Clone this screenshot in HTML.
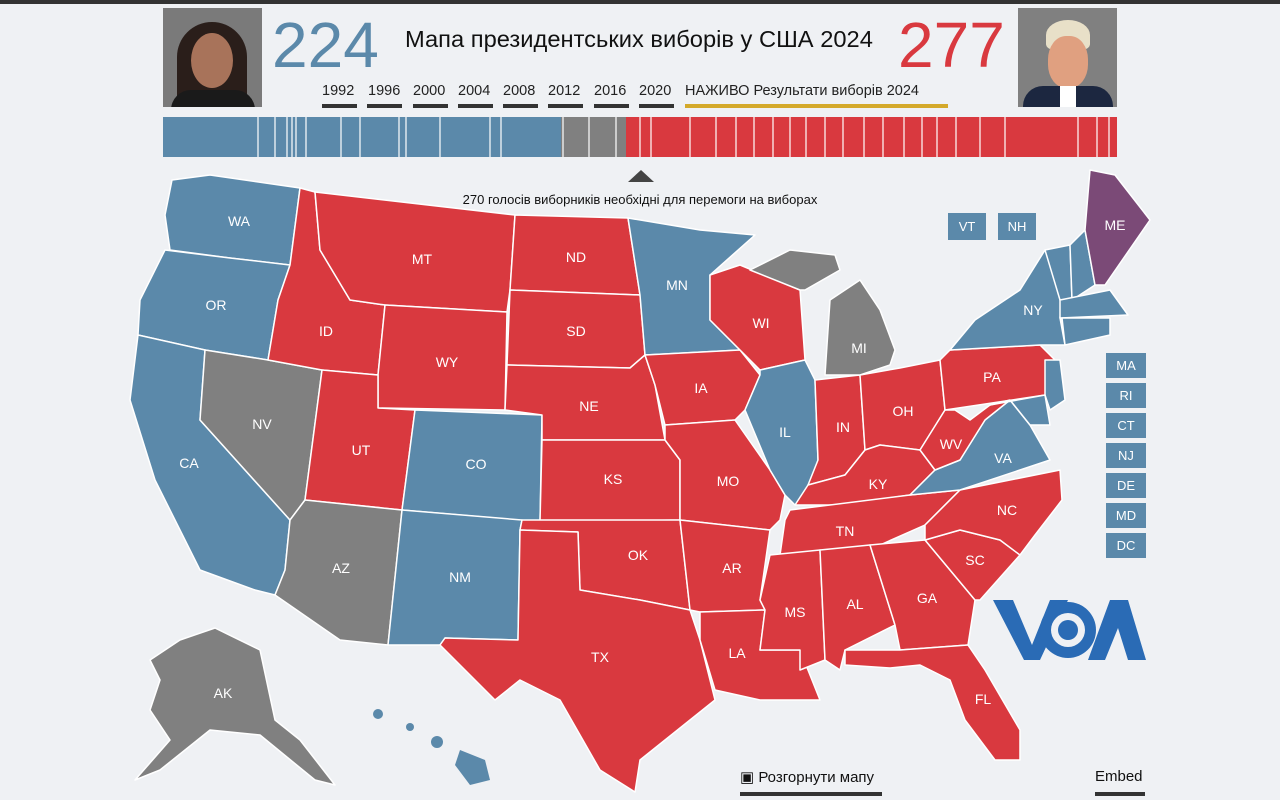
<!DOCTYPE html><html><head><meta charset="utf-8"><style>
body{margin:0;width:1280px;height:800px;background:#eff1f4;font-family:"Liberation Sans",sans-serif;position:relative;overflow:hidden}
.a{position:absolute}
.yr{position:absolute;top:83px;font-size:14.5px;color:#222}
.ul{position:absolute;top:104px;height:4px;background:#333}
.bx{position:absolute;left:1106px;width:40px;height:25px;background:#5b89aa;color:#fff;font-size:13px;text-align:center;line-height:25px}
svg text{font-family:"Liberation Sans",sans-serif;font-size:14px;fill:#fff;text-anchor:middle}
</style></head><body>
<div class="a" style="left:0;top:0;width:1280px;height:4px;background:#333"></div>
<div class="a" style="left:163px;top:8px;width:99px;height:99px;background:#7a7a7a;overflow:hidden">
<div class="a" style="left:14px;top:14px;width:70px;height:95px;border-radius:35px 35px 10px 10px;background:#2a1e1a"></div>
<div class="a" style="left:28px;top:25px;width:42px;height:55px;border-radius:50%;background:#a8735a"></div>
<div class="a" style="left:8px;top:82px;width:84px;height:30px;border-radius:20px 20px 0 0;background:#1a1a1a"></div></div>
<div class="a" style="left:1018px;top:8px;width:99px;height:99px;background:#808080;overflow:hidden">
<div class="a" style="left:28px;top:12px;width:44px;height:30px;border-radius:50% 50% 20% 20%;background:#e8e0c8"></div>
<div class="a" style="left:30px;top:28px;width:40px;height:52px;border-radius:45%;background:#e0a080"></div>
<div class="a" style="left:5px;top:78px;width:90px;height:30px;border-radius:20px 20px 0 0;background:#1c2740"></div>
<div class="a" style="left:42px;top:78px;width:16px;height:22px;background:#fff"></div></div>
<div class="a" style="left:272px;top:8px;font-size:64px;color:#5b89aa">224</div>
<div class="a" style="left:898px;top:8px;font-size:64px;color:#d9393f">277</div>
<div class="a" style="left:405px;top:26px;font-size:23px;color:#111;transform:scaleX(1.03);transform-origin:left">Мапа президентських виборів у США 2024</div>
<div class="yr" style="left:322px">1992</div><div class="yr" style="left:368px">1996</div><div class="yr" style="left:413px">2000</div><div class="yr" style="left:458px">2004</div><div class="yr" style="left:503px">2008</div><div class="yr" style="left:548px">2012</div><div class="yr" style="left:594px">2016</div><div class="yr" style="left:639px">2020</div>
<div class="yr" style="left:685px">НАЖИВО Результати виборів 2024</div>
<div class="ul" style="left:322px;width:35px"></div><div class="ul" style="left:367px;width:35px"></div><div class="ul" style="left:413px;width:35px"></div><div class="ul" style="left:458px;width:35px"></div><div class="ul" style="left:503px;width:35px"></div><div class="ul" style="left:548px;width:35px"></div><div class="ul" style="left:594px;width:35px"></div><div class="ul" style="left:639px;width:35px"></div>
<div class="ul" style="left:685px;width:263px;background:#d4a92a"></div>
<svg class="a" style="left:0;top:0" width="1280" height="800">
<rect x="163" y="117" width="398" height="40" fill="#5b89aa"/>
<rect x="561" y="117" width="65" height="40" fill="#808080"/>
<rect x="626" y="117" width="491" height="40" fill="#d9393f"/>
<g stroke="#fff" stroke-width="1.2">
<path d="M258 117v40M275 117v40M287 117v40M292 117v40M296 117v40M306 117v40M341 117v40M360 117v40M399 117v40M406 117v40M440 117v40M490 117v40M501 117v40M563 117v40M589 117v40M616 117v40M640 117v40M651 117v40M690 117v40M716 117v40M736 117v40M754 117v40M773 117v40M790 117v40M806 117v40M825 117v40M843 117v40M864 117v40M883 117v40M904 117v40M922 117v40M937 117v40M956 117v40M980 117v40M1005 117v40M1078 117v40M1097 117v40M1109 117v40"/>
</g>
<polygon points="628,182 641,170 654,182" fill="#444"/>
<g stroke="#fff" stroke-width="1.5" stroke-linejoin="round">
<polygon fill="#5b89aa" points="172,180 210,175 300,188 290,265 230,258 170,250 165,215"/>
<polygon fill="#5b89aa" points="165,250 230,258 290,265 278,300 268,360 205,350 138,335 140,300"/>
<polygon fill="#5b89aa" points="138,335 205,350 200,420 290,520 285,570 275,595 255,590 200,570 155,480 130,400"/>
<polygon fill="#808080" points="205,350 268,360 322,370 305,500 290,520 200,420"/>
<polygon fill="#d9393f" points="300,188 315,192 320,250 350,300 385,305 378,375 322,370 268,360 278,300 290,265"/>
<polygon fill="#d9393f" points="315,192 515,215 510,290 507,312 385,305 350,300 320,250"/>
<polygon fill="#d9393f" points="385,305 507,312 505,410 378,408 378,375"/>
<polygon fill="#d9393f" points="322,370 378,375 378,408 415,410 402,510 305,500"/>
<polygon fill="#5b89aa" points="415,410 542,415 540,522 402,510"/>
<polygon fill="#808080" points="305,500 402,510 388,645 340,640 275,595 285,570 290,520"/>
<polygon fill="#5b89aa" points="402,510 522,520 520,530 518,640 445,638 440,645 388,645"/>
<polygon fill="#d9393f" points="515,215 628,218 640,295 510,290"/>
<polygon fill="#d9393f" points="510,290 640,295 645,355 630,368 507,365"/>
<polygon fill="#d9393f" points="507,365 630,368 645,355 655,385 665,440 542,440 542,415 505,410"/>
<polygon fill="#d9393f" points="542,440 665,440 680,460 680,520 540,522"/>
<polygon fill="#d9393f" points="522,520 680,520 690,610 640,600 580,590 578,532 520,530"/>
<polygon fill="#d9393f" points="520,530 578,532 580,590 640,600 690,610 700,640 715,700 690,720 640,760 635,792 600,770 560,700 520,680 495,700 440,645 445,638 518,640"/>
<polygon fill="#5b89aa" points="628,218 700,230 755,235 710,275 710,320 740,350 645,355 640,295"/>
<polygon fill="#d9393f" points="645,355 740,350 760,375 745,410 735,420 665,425 655,385"/>
<polygon fill="#d9393f" points="665,425 735,420 770,470 785,495 780,520 770,530 680,520 680,460 665,440"/>
<polygon fill="#d9393f" points="680,520 770,530 760,600 765,610 700,612 690,610"/>
<polygon fill="#d9393f" points="700,612 765,610 760,650 800,650 820,700 760,700 715,690 700,640"/>
<polygon fill="#d9393f" points="710,275 740,265 800,290 805,360 760,370 740,350 710,320"/>
<polygon fill="#5b89aa" points="760,370 805,360 815,380 818,460 808,500 795,505 785,495 770,470 745,410 760,375"/>
<polygon fill="#d9393f" points="815,380 860,375 865,450 845,475 808,485 818,460"/>
<polygon fill="#d9393f" points="860,375 900,368 940,360 945,410 920,450 880,445 865,450"/>
<polygon fill="#808080" points="825,375 830,300 860,280 880,310 895,350 890,365 860,375"/>
<polygon fill="#808080" points="750,270 790,250 835,255 840,270 805,290 800,290"/>
<polygon fill="#d9393f" points="808,485 845,475 865,450 880,445 920,450 935,470 910,495 840,505 795,505"/>
<polygon fill="#d9393f" points="790,510 910,495 960,490 925,525 880,545 780,555 785,520"/>
<polygon fill="#d9393f" points="770,555 820,550 825,660 800,670 800,650 760,650 765,610 760,600"/>
<polygon fill="#d9393f" points="820,550 870,545 895,625 845,650 840,670 825,660"/>
<polygon fill="#d9393f" points="870,545 925,540 950,570 975,600 968,645 900,650 895,625"/>
<polygon fill="#d9393f" points="845,650 900,650 968,645 985,670 1020,730 1020,760 995,760 965,720 950,680 920,665 890,668 845,665"/>
<polygon fill="#d9393f" points="925,540 960,530 1000,540 1020,555 980,600 975,600 950,570"/>
<polygon fill="#d9393f" points="960,490 1060,470 1062,500 1035,535 1020,555 1000,540 960,530 925,540 925,525"/>
<polygon fill="#5b89aa" points="910,495 935,470 960,460 985,420 1010,400 1030,425 1050,460 960,490"/>
<polygon fill="#d9393f" points="920,450 945,410 955,410 970,420 990,405 1010,400 985,420 960,460 935,470"/>
<polygon fill="#d9393f" points="940,360 950,350 1040,345 1055,360 1045,395 945,410"/>
<polygon fill="#5b89aa" points="950,350 975,320 1020,290 1045,250 1060,248 1062,300 1060,318 1065,345 1040,345"/>
<polygon fill="#5b89aa" points="1045,250 1070,245 1072,300 1060,300"/>
<polygon fill="#5b89aa" points="1070,245 1085,230 1095,285 1072,300"/>
<polygon fill="#7b4a77" points="1085,230 1090,170 1115,175 1150,220 1105,285 1095,285"/>
<polygon fill="#5b89aa" points="1060,300 1110,290 1128,315 1060,318"/>
<polygon fill="#5b89aa" points="1062,318 1110,318 1110,335 1065,345"/>
<polygon fill="#5b89aa" points="1045,360 1060,360 1065,400 1050,410 1045,395"/>
<polygon fill="#5b89aa" points="990,405 1045,395 1050,425 1030,425 1010,400"/>
<polygon fill="#808080" points="180,640 215,628 260,650 275,720 300,740 335,785 315,780 260,735 210,730 160,770 135,780 170,740 150,710 160,680 150,660"/>
</g>
<g fill="#5b89aa"><circle cx="378" cy="714" r="5"/><circle cx="410" cy="727" r="4"/><circle cx="437" cy="742" r="6"/><polygon points="460,750 485,760 490,780 470,785 455,765"/></g>
<text x="239" y="226">WA</text><text x="216" y="310">OR</text><text x="189" y="468">CA</text><text x="262" y="429">NV</text><text x="326" y="336">ID</text><text x="422" y="264">MT</text><text x="447" y="367">WY</text><text x="361" y="455">UT</text><text x="476" y="469">CO</text><text x="341" y="573">AZ</text><text x="460" y="582">NM</text><text x="576" y="262">ND</text><text x="576" y="336">SD</text><text x="589" y="411">NE</text><text x="613" y="484">KS</text><text x="638" y="560">OK</text><text x="600" y="662">TX</text><text x="677" y="290">MN</text><text x="701" y="393">IA</text><text x="728" y="486">MO</text><text x="732" y="573">AR</text><text x="737" y="658">LA</text><text x="761" y="328">WI</text><text x="785" y="437">IL</text><text x="843" y="432">IN</text><text x="903" y="416">OH</text><text x="859" y="353">MI</text><text x="878" y="489">KY</text><text x="845" y="536">TN</text><text x="795" y="617">MS</text><text x="855" y="609">AL</text><text x="927" y="603">GA</text><text x="983" y="704">FL</text><text x="975" y="565">SC</text><text x="1007" y="515">NC</text><text x="1003" y="463">VA</text><text x="951" y="449">WV</text><text x="992" y="382">PA</text><text x="1033" y="315">NY</text><text x="1115" y="230">ME</text><text x="223" y="698">AK</text>
<text x="640" y="204" style="fill:#111;font-size:13px">270 голосів виборників необхідні для перемоги на виборах</text>
<g fill="#2a6bb5">
<polygon points="993,600 1013,600 1032,645 1050,600 1068,600 1040,660 1024,660"/>
<circle cx="1068" cy="630" r="28"/>
<polygon points="1110,600 1128,600 1146,660 1128,660 1118,628 1105,660 1088,660"/>
</g>
<circle cx="1068" cy="630" r="17" fill="#eff1f4"/>
<circle cx="1068" cy="630" r="10" fill="#2a6bb5"/>
</svg>
<div class="a" style="left:948px;top:213px;width:38px;height:27px;background:#5b89aa;color:#fff;font-size:13px;text-align:center;line-height:27px">VT</div>
<div class="a" style="left:998px;top:213px;width:38px;height:27px;background:#5b89aa;color:#fff;font-size:13px;text-align:center;line-height:27px">NH</div>
<div class="bx" style="top:353px">MA</div><div class="bx" style="top:383px">RI</div><div class="bx" style="top:413px">CT</div><div class="bx" style="top:443px">NJ</div><div class="bx" style="top:473px">DE</div><div class="bx" style="top:503px">MD</div><div class="bx" style="top:533px">DC</div>
<div class="a" style="left:740px;top:768px;font-size:15px;color:#111">▣ Розгорнути мапу</div>
<div class="a" style="left:740px;top:792px;width:142px;height:4px;background:#333"></div>
<div class="a" style="left:1095px;top:768px;font-size:15px;color:#111">Embed</div>
<div class="a" style="left:1095px;top:792px;width:50px;height:4px;background:#333"></div>
</body></html>
